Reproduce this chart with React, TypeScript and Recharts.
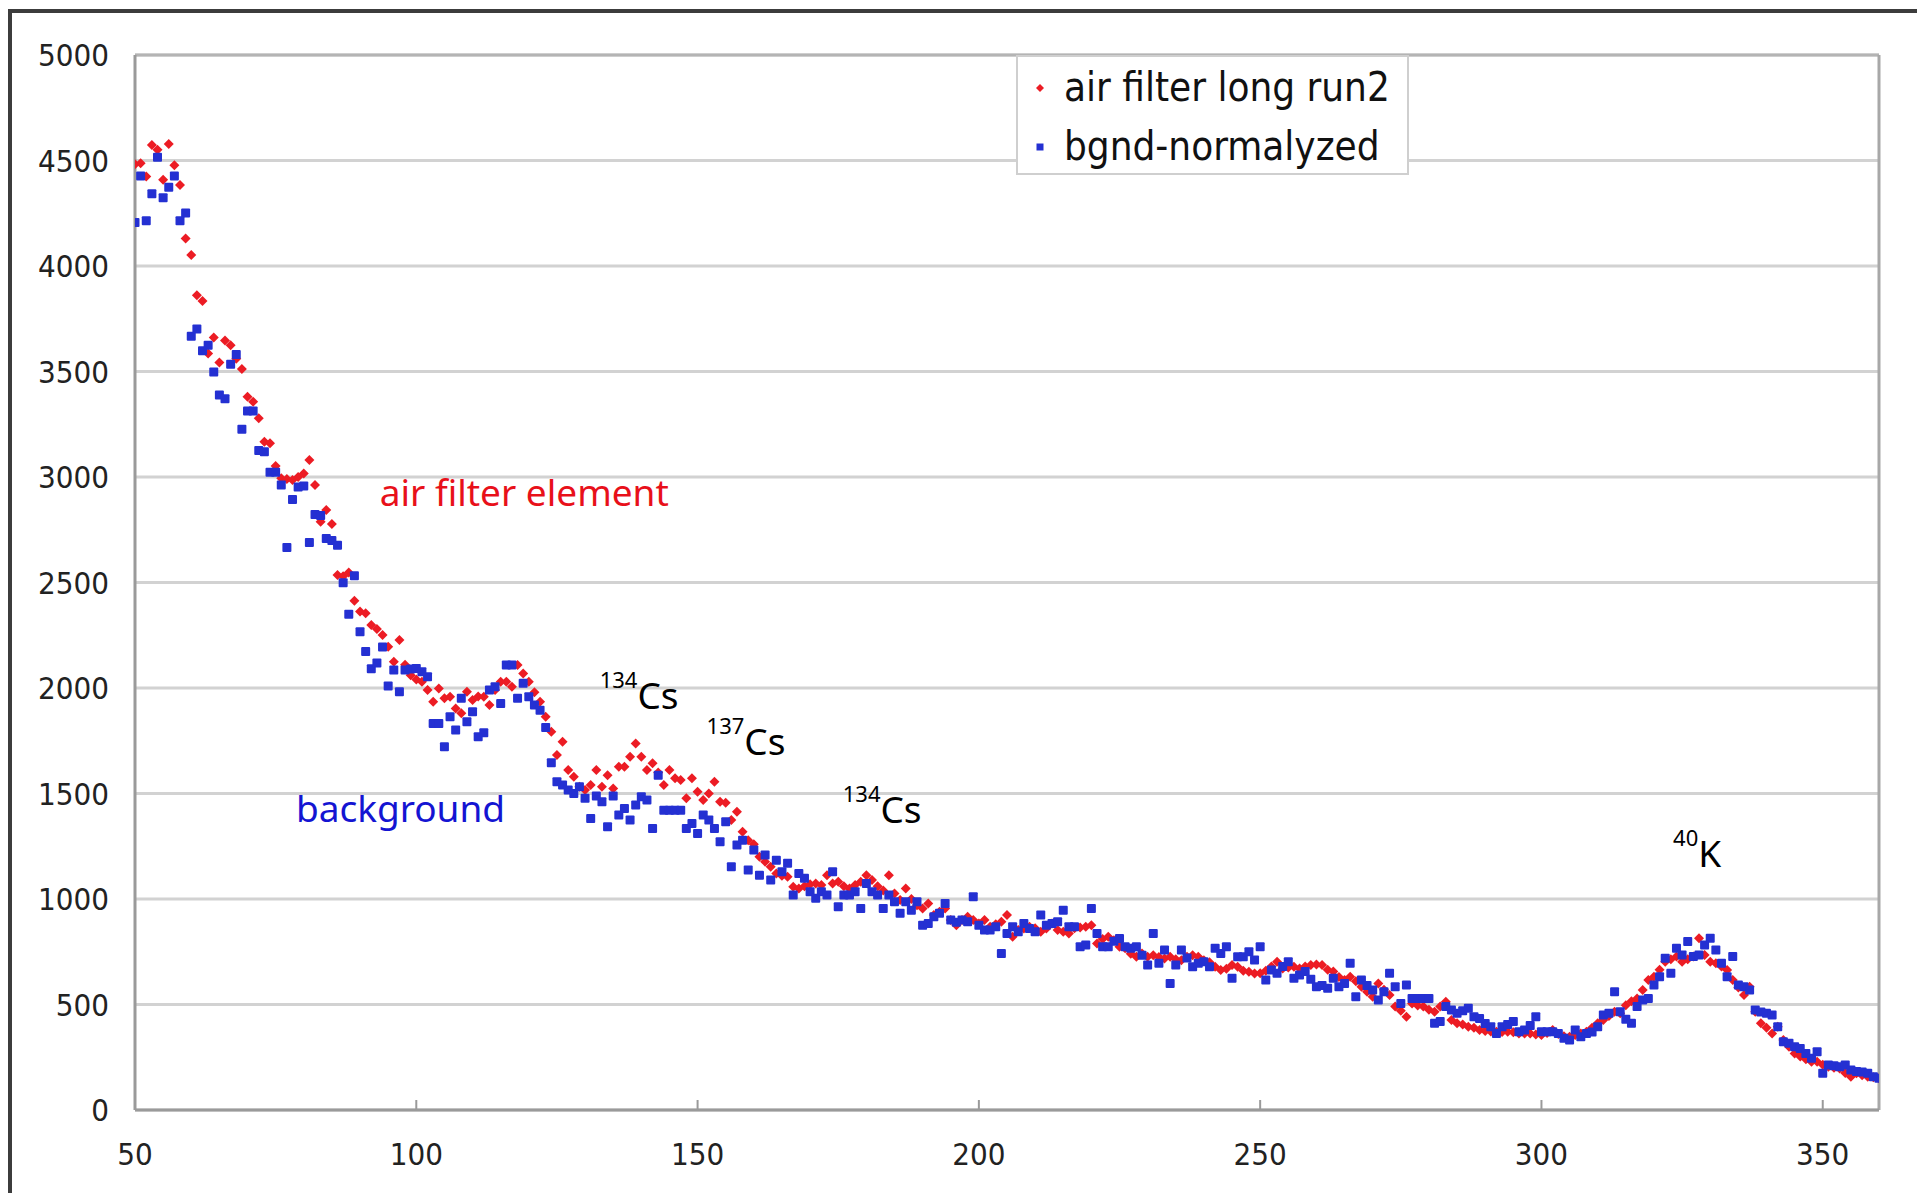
import React from 'react';
import {
  ScatterChart,
  Scatter,
  XAxis,
  YAxis,
  CartesianGrid,
  ReferenceLine,
  ReferenceDot,
  Legend,
} from 'recharts';

// channel numbers start at 50 and step by one channel
const CHANNEL_START = 50;

// air filter long run2 (red), channels 50..360
const airFilterCounts: number[] = [
  4482, 4487, 4424, 4573, 4551, 4409, 4578, 4478, 4384, 4130,
  4052, 3861, 3834, 3585, 3661, 3543, 3647, 3625, 3560, 3512,
  3380, 3357, 3278, 3167, 3160, 3052, 2994, 2990, 2986, 3000,
  3017, 3081, 2962, 2788, 2844, 2777, 2535, 2530, 2547, 2414,
  2362, 2354, 2298, 2280, 2251, 2196, 2125, 2227, 2110, 2060,
  2040, 2030, 1990, 1935, 1998, 1951, 1959, 1903, 1880, 1982,
  1943, 1960, 1959, 1919, 1990, 2030, 2030, 2006, 2109, 2069,
  2030, 1980, 1935, 1864, 1793, 1682, 1745, 1611, 1579, 1532,
  1516, 1540, 1611, 1532, 1587, 1524, 1627, 1627, 1674, 1737,
  1674, 1611, 1643, 1600, 1540, 1611, 1572, 1564, 1477, 1572,
  1508, 1469, 1500, 1556, 1461, 1456, 1374, 1414, 1319, 1279,
  1260, 1200, 1177, 1153, 1121, 1110, 1105, 1058, 1050, 1060,
  1070, 1074, 1066, 1113, 1074, 1082, 1060, 1050, 1066, 1082,
  1113, 1090, 1060, 1040, 1113, 1026, 995, 1050, 1000, 970,
  955, 979, 924, 940, 955, 900, 876, 900, 916, 900,
  884, 900, 868, 880, 892, 924, 821, 853, 860, 868,
  861, 845, 860, 884, 853, 845, 837, 861, 865, 868,
  876, 789, 810, 821, 805, 774, 766, 740, 726, 742,
  726, 734, 725, 718, 726, 715, 710, 726, 734, 726,
  710, 700, 679, 663, 670, 687, 679, 660, 655, 647,
  648, 660, 680, 703, 671, 675, 679, 671, 680, 687,
  690, 687, 665, 656, 630, 616, 632, 610, 584, 560,
  537, 600, 570, 545, 490, 470, 442, 505, 495, 490,
  475, 466, 490, 513, 426, 411, 405, 395, 390, 379,
  375, 372, 371, 370, 371, 368, 363, 362, 363, 358,
  355, 365, 379, 360, 350, 347, 355, 363, 371, 390,
  411, 426, 445, 466, 458, 497, 515, 529, 569, 616,
  632, 665, 703, 715, 727, 703, 715, 727, 814, 735,
  703, 695, 680, 663, 616, 580, 545, 584, 466, 411,
  390, 363, 395, 332, 300, 268, 253, 240, 229, 229,
  215, 205, 200, 197, 175, 158, 174, 165, 158, 155,
  150,
];

// bgnd-normalyzed (blue), channels 50..360
const backgroundCounts: number[] = [
  4206, 4427, 4215, 4342, 4515, 4324, 4373, 4427, 4215, 4251,
  3667, 3701, 3598, 3625, 3498, 3389, 3371, 3534, 3580, 3226,
  3313, 3313, 3126, 3120, 3022, 3022, 2962, 2666, 2893, 2953,
  2957, 2690, 2822, 2817, 2708, 2699, 2677, 2499, 2349, 2532,
  2267, 2173, 2091, 2118, 2194, 2009, 2085, 1982, 2085, 2090,
  2093, 2077, 2053, 1832, 1832, 1722, 1864, 1801, 1951, 1840,
  1888, 1769, 1788, 1990, 2006, 1927, 2109, 2109, 1951, 2022,
  1959, 1919, 1895, 1813, 1646, 1556, 1540, 1516, 1500, 1532,
  1477, 1382, 1488, 1461, 1342, 1488, 1398, 1429, 1374, 1445,
  1485, 1469, 1334, 1587, 1421, 1421, 1421, 1421, 1334, 1358,
  1311, 1398, 1374, 1334, 1271, 1366, 1153, 1256, 1279, 1137,
  1232, 1113, 1208, 1090, 1184, 1129, 1169, 1019, 1121, 1098,
  1034, 1003, 1034, 1019, 1129, 963, 1019, 1019, 1034, 955,
  1074, 1034, 1019, 955, 1019, 987, 932, 987, 947, 987,
  876, 884, 916, 932, 979, 900, 890, 900, 892, 1011,
  876, 853, 853, 868, 742, 837, 868, 845, 884, 860,
  845, 924, 876, 884, 892, 947, 868, 868, 774, 782,
  955, 837, 774, 774, 800, 813, 774, 766, 774, 734,
  687, 837, 695, 758, 600, 687, 758, 720, 679, 695,
  703, 679, 766, 742, 774, 624, 726, 726, 750, 711,
  774, 616, 663, 648, 680, 703, 624, 640, 656, 620,
  584, 590, 577, 624, 584, 600, 695, 537, 616, 590,
  569, 521, 560, 648, 584, 505, 592, 529, 529, 529,
  529, 411, 419, 490, 474, 458, 470, 482, 442, 434,
  410, 395, 363, 395, 405, 419, 371, 379, 400, 442,
  371, 371, 371, 363, 340, 332, 379, 347, 363, 370,
  395, 450, 458, 561, 466, 430, 411, 490, 521, 529,
  592, 632, 719, 648, 766, 735, 798, 727, 735, 782,
  814, 758, 695, 632, 727, 592, 584, 569, 474, 465,
  458, 450, 395, 324, 316, 300, 292, 268, 245, 276,
  174, 213, 210, 205, 213, 189, 182, 180, 174, 158,
  150,
];

const seriesNames = ['air filter long run2', 'bgnd-normalyzed'];
const xTicks = [50, 100, 150, 200, 250, 300, 350];
const yTicks = [0, 500, 1000, 1500, 2000, 2500, 3000, 3500, 4000, 4500, 5000];
const xDomain: [number, number] = [50, 360];
const yDomain: [number, number] = [0, 5000];

// text annotations anchored in data units (text start, baseline)
const annotations = [
  { x: 93.5, y: 2862, sup: '', main: 'air filter element', color: '#e8101a' },
  { x: 78.6, y: 1365, sup: '', main: 'background', color: '#1414d2' },
  { x: 132.6, y: 1900, sup: '134', main: 'Cs', color: '#000000' },
  { x: 151.6, y: 1682, sup: '137', main: 'Cs', color: '#000000' },
  { x: 175.8, y: 1360, sup: '134', main: 'Cs', color: '#000000' },
  { x: 323.4, y: 1152, sup: '40', main: 'K', color: '#000000' },
];

const RED = '#ec1c24';
const BLUE = '#2430d2';
const TICK_FONT = "'DejaVu Sans Condensed', 'DejaVu Sans', sans-serif";
const NOTE_FONT = "'Noto Sans', 'Open Sans', sans-serif";

const toPoints = (vals: number[]) => vals.map((v, i) => ({ x: CHANNEL_START + i, y: v }));
const airPoints = toPoints(airFilterCounts);
const bgPoints = toPoints(backgroundCounts);

const Diamond = (props: any) => {
  const { cx, cy } = props;
  if (cx == null || cy == null) return null;
  const r = 5;
  return (
    <polygon
      points={`${cx},${cy - r} ${cx + r},${cy} ${cx},${cy + r} ${cx - r},${cy}`}
      fill={RED}
    />
  );
};

const Square = (props: any) => {
  const { cx, cy } = props;
  if (cx == null || cy == null) return null;
  const s = 9;
  return <rect x={cx - s / 2} y={cy - s / 2} width={s} height={s} rx={1} fill={BLUE} />;
};

const XTick = (props: any) => {
  const { x, y, payload } = props;
  return (
    <g>
      {payload.value !== 50 && (
        <line x1={x} y1={y} x2={x} y2={y - 10} stroke="#9a9a9a" strokeWidth={2} />
      )}
      <text
        x={x}
        y={y + 55}
        textAnchor="middle"
        fontFamily={TICK_FONT}
        fontSize={31}
        fill="#222"
      >
        {payload.value}
      </text>
    </g>
  );
};

const YTick = (props: any) => {
  const { x, y, payload } = props;
  return (
    <text
      x={x - 26}
      y={y + 11}
      textAnchor="end"
      fontFamily={TICK_FONT}
      fontSize={31}
      fill="#222"
    >
      {payload.value}
    </text>
  );
};

const renderLegend = (props: any) => {
  const payload = props.payload || [];
  return (
    <div
      style={{
        width: 393,
        height: 120,
        boxSizing: 'border-box',
        border: '2px solid #cfcfcf',
        background: '#ffffff',
      }}
    >
      <svg width={389} height={116} style={{ display: 'block' }}>
        {seriesNames.map((name, i) => {
          const cy = 31 + i * 59;
          const entry = payload.find((p: any) => p.value === name);
          const color = entry && entry.color ? entry.color : i === 0 ? RED : BLUE;
          return (
            <g key={name}>
              {i === 0 ? (
                <polygon
                  points={`22,${cy - 4} 26,${cy} 22,${cy + 4} 18,${cy}`}
                  fill={color}
                />
              ) : (
                <rect x={18.5} y={cy - 3.5} width={7} height={7} fill={color} />
              )}
              <text
                x={46}
                y={cy + 13}
                fontFamily={TICK_FONT}
                fontSize={40}
                fill="#111"
              >
                {name}
              </text>
            </g>
          );
        })}
      </svg>
    </div>
  );
};

const makeNote = (a: any) => (props: any) => {
  const vb = props.viewBox || {};
  const x = (vb.x || 0) + (vb.width || 0) / 2;
  const y = (vb.y || 0) + (vb.height || 0) / 2;
  return (
    <text x={x} y={y} fontFamily={NOTE_FONT} fontSize={37} fill={a.color}>
      {a.sup ? (
        <>
          <tspan fontSize={22} dy={-21}>
            {a.sup}
          </tspan>
          <tspan dy={21}>{a.main}</tspan>
        </>
      ) : (
        a.main
      )}
    </text>
  );
};

export default function App() {
  return (
    <div
      style={{
        position: 'fixed',
        left: 0,
        top: 0,
        width: 1917,
        height: 1193,
        background: '#ffffff',
        overflow: 'hidden',
      }}
    >
      <div
        style={{
          position: 'absolute',
          left: 8,
          top: 9,
          width: 2000,
          height: 1300,
          borderTop: '4px solid #3c3c3c',
          borderLeft: '4px solid #3c3c3c',
        }}
      />
      <ScatterChart
        width={1917}
        height={1193}
        margin={{ top: 55, right: 38, bottom: 0, left: 0 }}
      >
        <CartesianGrid
          horizontal={true}
          vertical={false}
          stroke="#d2d2d2"
          strokeWidth={3}
        />
        <XAxis
          type="number"
          dataKey="x"
          domain={xDomain}
          ticks={xTicks}
          interval={0}
          allowDataOverflow
          height={83}
          tickSize={0}
          tickMargin={0}
          tickLine={false}
          axisLine={{ stroke: '#9a9a9a', strokeWidth: 3 }}
          tick={<XTick />}
        />
        <YAxis
          type="number"
          dataKey="y"
          domain={yDomain}
          ticks={yTicks}
          interval={0}
          allowDataOverflow
          width={135}
          tickSize={0}
          tickMargin={0}
          tickLine={false}
          axisLine={{ stroke: '#9a9a9a', strokeWidth: 3 }}
          tick={<YTick />}
        />
        <ReferenceLine y={5000} stroke="#b4b4b4" strokeWidth={3} />
        <ReferenceLine x={360} stroke="#a8a8a8" strokeWidth={3} />
        <Legend
          layout="vertical"
          align="center"
          verticalAlign="middle"
          content={renderLegend}
          wrapperStyle={{ left: 1016, top: 55, width: 393, height: 120 }}
        />
        <Scatter
          name={seriesNames[0]}
          data={airPoints}
          fill={RED}
          shape={Diamond}
          isAnimationActive={false}
        />
        <Scatter
          name={seriesNames[1]}
          data={bgPoints}
          fill={BLUE}
          shape={Square}
          isAnimationActive={false}
        />
        {annotations.map((a, i) => (
          <ReferenceDot
            key={i}
            x={a.x}
            y={a.y}
            r={0}
            fill="none"
            stroke="none"
            ifOverflow="visible"
            label={makeNote(a)}
          />
        ))}
      </ScatterChart>
    </div>
  );
}
